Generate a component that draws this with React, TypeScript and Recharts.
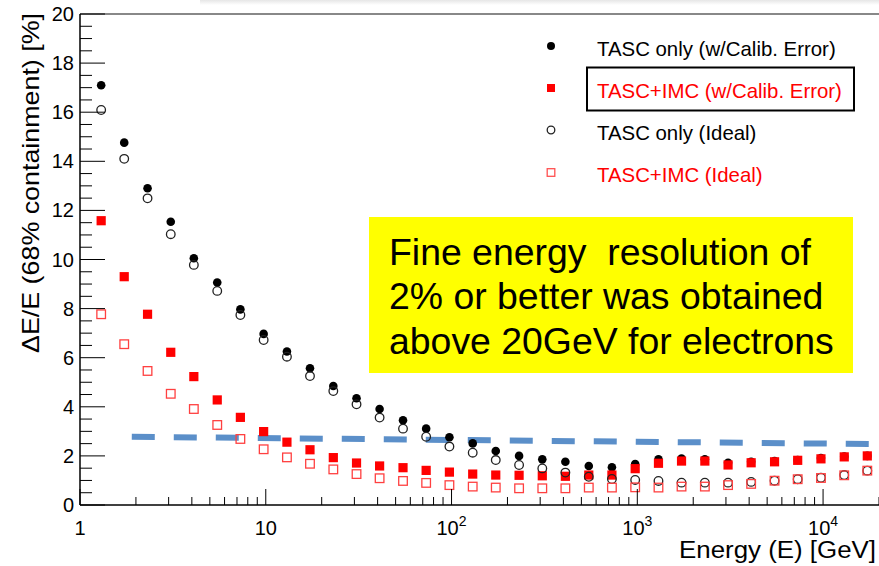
import React from 'react';
import { ScatterChart, Scatter, XAxis, YAxis, ReferenceLine } from 'recharts';

const W = 879;
const H = 566;
const FONT = '"Liberation Sans", Arial, Helvetica, sans-serif';

// beam energies [GeV], 8 bins per decade
const energy = [
  1.3, 1.73, 2.31, 3.08, 4.1, 5.48, 7.3, 9.74, 13, 17.3, 23.1, 30.8, 41, 54.8, 73, 97.4,
  130, 173, 231, 308, 410, 548, 730, 974, 1300, 1730, 2310, 3080, 4100, 5480, 7300, 9740,
  13000, 17300,
];

// dE/E (68% containment) [%]
const tascCalib = [
  17.1, 14.76, 12.9, 11.54, 10.05, 9.06, 7.97, 6.97, 6.25, 5.57, 4.85, 4.35, 3.91, 3.45, 3.11, 2.76,
  2.51, 2.2, 2.0, 1.86, 1.76, 1.59, 1.54, 1.67, 1.86, 1.89, 1.86, 1.72, 1.76, 1.79, 1.83, 1.91,
  1.97, 2.0,
];
const tascImcCalib = [
  11.58, 9.3, 7.77, 6.22, 5.23, 4.28, 3.57, 2.99, 2.56, 2.25, 1.93, 1.71, 1.59, 1.52, 1.41, 1.34,
  1.26, 1.22, 1.21, 1.19, 1.17, 1.22, 1.22, 1.48, 1.7, 1.79, 1.79, 1.63, 1.72, 1.76, 1.82, 1.88,
  1.96, 2.0,
];
const tascIdeal = [
  16.09, 14.1, 12.49, 11.03, 9.78, 8.72, 7.74, 6.72, 6.04, 5.25, 4.64, 4.1, 3.56, 3.11, 2.78, 2.38,
  2.13, 1.83, 1.63, 1.49, 1.32, 1.15, 1.06, 1.02, 0.98, 0.91, 0.91, 0.91, 0.94, 0.99, 1.05, 1.11,
  1.22, 1.4,
];
const tascImcIdeal = [
  7.77, 6.55, 5.46, 4.53, 3.91, 3.26, 2.69, 2.27, 1.94, 1.68, 1.45, 1.26, 1.09, 0.98, 0.9, 0.81,
  0.75, 0.71, 0.68, 0.68, 0.68, 0.71, 0.71, 0.72, 0.71, 0.75, 0.75, 0.81, 0.86, 0.99, 1.05, 1.1,
  1.21, 1.4,
];

// 2% reference line (dashed blue)
const refLine = [
  { x: 1.9, y: 2.78 },
  { x: 19600, y: 2.48 },
];

const xMajor = [
  { v: 1, base: '1', exp: '' },
  { v: 10, base: '10', exp: '' },
  { v: 100, base: '10', exp: '2' },
  { v: 1000, base: '10', exp: '3' },
  { v: 10000, base: '10', exp: '4' },
];
const yLabels = [0, 2, 4, 6, 8, 10, 12, 14, 16, 18, 20];

const legendItems = [
  { label: 'TASC only (w/Calib. Error)', color: '#000', marker: 'dot' },
  { label: 'TASC+IMC (w/Calib. Error)', color: '#ff0000', marker: 'square' },
  { label: 'TASC only (Ideal)', color: '#000', marker: 'circle' },
  { label: 'TASC+IMC (Ideal)', color: '#ff0000', marker: 'openSquare' },
];

const noteLines = ['Fine energy  resolution of', '2% or better was obtained', 'above 20GeV for electrons'];

// minor + major tick positions
const xTicks: number[] = [];
[1, 10, 100, 1000, 10000].forEach((d) => {
  for (let m = 1; m <= 9; m++) {
    if (d * m <= 20000) xTicks.push(d * m);
  }
});
const yTicks = Array.from({ length: 41 }, (_, i) => i * 0.5);

const toPoints = (vals: number[]) => energy.map((e, i) => ({ x: e, y: vals[i] }));

const XTick = (props: any) => {
  const { x, y, payload } = props;
  const v = payload.value;
  const major = xMajor.find((m) => Math.abs(m.v - v) < 1e-6);
  return (
    <g>
      <line x1={x} x2={x} y1={y} y2={y - (major ? 16 : 8)} stroke="#000" strokeWidth={1} />
      {major && (
        <text x={x} y={535} textAnchor="middle" fontSize={20} fontFamily={FONT} fill="#000">
          {major.base}
          {major.exp && (
            <tspan fontSize={14} dy={-9}>
              {major.exp}
            </tspan>
          )}
        </text>
      )}
    </g>
  );
};

const YTick = (props: any) => {
  const { x, y, payload } = props;
  const v = payload.value;
  const major = yLabels.includes(v);
  return (
    <g>
      <line x1={x} x2={x + (major ? 25 : 12)} y1={y} y2={y} stroke="#000" strokeWidth={1} />
      {major && (
        <text x={x - 6} y={y + 7} textAnchor="end" fontSize={20} fontFamily={FONT} fill="#000">
          {v}
        </text>
      )}
    </g>
  );
};

const dotShape = (p: any) => <circle cx={p.cx} cy={p.cy} r={4.3} fill="#000" />;
const squareShape = (p: any) => <rect x={p.cx - 4.6} y={p.cy - 4.6} width={9.2} height={9.2} fill="#ff0000" />;
const circleShape = (p: any) => (
  <circle cx={p.cx} cy={p.cy} r={4.3} fill="none" stroke="#222" strokeWidth={1.3} />
);
const openSquareShape = (p: any) => (
  <rect x={p.cx - 4.3} y={p.cy - 4.3} width={8.6} height={8.6} fill="none" stroke="#ff4040" strokeWidth={1.3} />
);

const LegendMarker = ({ kind, cy }: { kind: string; cy: number }) => {
  const cx = 551;
  if (kind === 'dot') return <circle cx={cx} cy={cy} r={4} fill="#000" />;
  if (kind === 'square') return <rect x={cx - 4} y={cy - 4} width={8} height={8} fill="#ff0000" />;
  if (kind === 'circle') return <circle cx={cx} cy={cy} r={3.8} fill="none" stroke="#222" strokeWidth={1.3} />;
  return <rect x={cx - 3.8} y={cy - 3.8} width={7.6} height={7.6} fill="none" stroke="#ff5050" strokeWidth={1.3} />;
};

export default function App() {
  const legendBase = [56, 97.5, 140, 182];
  const markerY = [46, 88, 130, 172.5];
  const noteBase = [265, 308.5, 354];

  return (
    <div style={{ position: 'absolute', left: 0, top: 0, width: W, height: H, background: '#fff' }}>
      <ScatterChart width={W} height={H} margin={{ top: 14, right: 0, bottom: 0, left: 0 }}>
        <XAxis
          type="number"
          dataKey="x"
          scale="log"
          domain={[1, 20000]}
          allowDataOverflow
          ticks={xTicks}
          interval={0}
          tick={XTick}
          tickLine={false}
          tickSize={0}
          tickMargin={0}
          height={61}
          axisLine={{ stroke: '#000', strokeWidth: 1.5 }}
        />
        <YAxis
          type="number"
          dataKey="y"
          domain={[0, 20]}
          allowDataOverflow
          ticks={yTicks}
          interval={0}
          tick={YTick}
          tickLine={false}
          tickSize={0}
          tickMargin={0}
          width={80}
          axisLine={{ stroke: '#000', strokeWidth: 1.5 }}
        />
        <ReferenceLine y={20} stroke="#888" strokeWidth={2} />
        <ReferenceLine
          segment={refLine}
          stroke="#5b8fc9"
          strokeWidth={6}
          strokeDasharray="23 19"
        />
        <Scatter data={toPoints(tascCalib)} shape={dotShape} isAnimationActive={false} />
        <Scatter data={toPoints(tascImcCalib)} shape={squareShape} isAnimationActive={false} />
        <Scatter data={toPoints(tascIdeal)} shape={circleShape} isAnimationActive={false} />
        <Scatter data={toPoints(tascImcIdeal)} shape={openSquareShape} isAnimationActive={false} />
      </ScatterChart>

      <svg
        width={W}
        height={H}
        style={{ position: 'absolute', left: 0, top: 0, pointerEvents: 'none' }}
        fontFamily={FONT}
      >
        <defs>
          <linearGradient id="topShade" x1="0" y1="0" x2="0" y2="1">
            <stop offset="0" stopColor="#e6e6e6" />
            <stop offset="1" stopColor="#ffffff" />
          </linearGradient>
        </defs>
        <rect x={200} y={0} width={679} height={5} fill="url(#topShade)" />

        {legendItems.map((it, i) => (
          <g key={it.label}>
            <LegendMarker kind={it.marker} cy={markerY[i]} />
            <text x={597} y={legendBase[i]} fontSize={20.4} fill={it.color}>
              {it.label}
            </text>
          </g>
        ))}
        <rect x={587} y={67.5} width={267} height={43} fill="none" stroke="#000" strokeWidth={2} />

        <rect x={369} y={217} width={484} height={156} fill="#ffff00" />
        {noteLines.map((t, i) => (
          <text key={t} x={389} y={noteBase[i]} fontSize={37.4} fill="#000" style={{ whiteSpace: 'pre' }}>
            {t}
          </text>
        ))}

        <text
          transform="translate(39,353) rotate(-90)"
          fontSize={24}
          fill="#000"
          textLength={340}
          lengthAdjust="spacingAndGlyphs"
        >
          ΔE/E (68% containment) [%]
        </text>
        <text x={679} y={558} fontSize={23} fill="#000" textLength={197} lengthAdjust="spacingAndGlyphs">
          Energy (E) [GeV]
        </text>
      </svg>
    </div>
  );
}
